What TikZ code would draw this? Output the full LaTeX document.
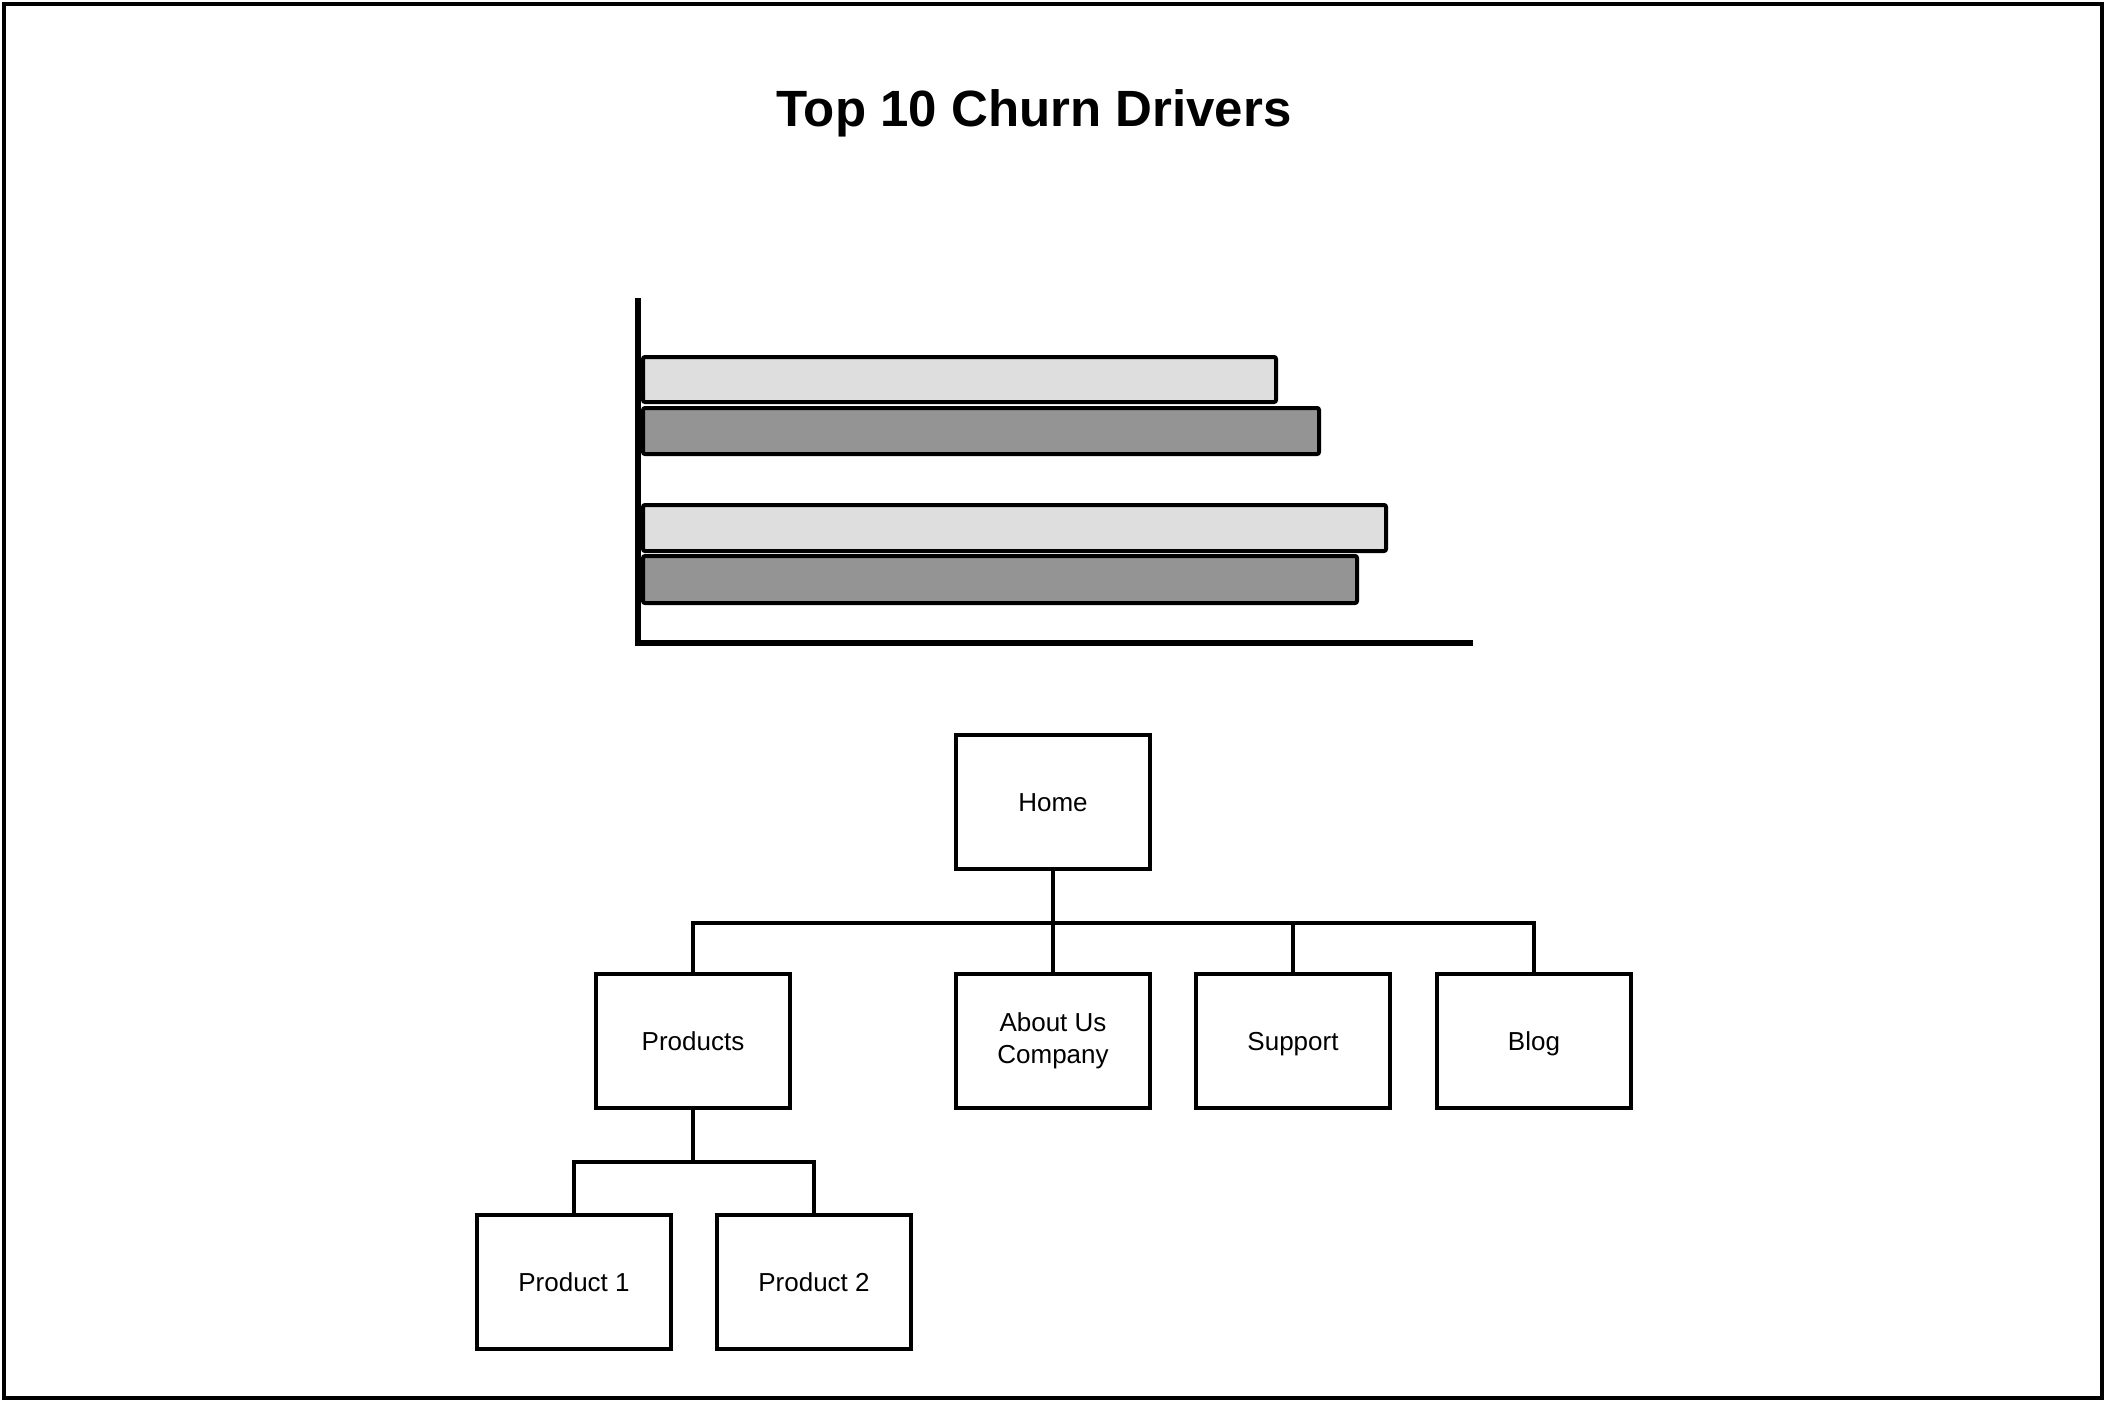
\documentclass[tikz,border=0pt]{standalone}
\usepackage{fontspec}
\setmainfont{Liberation Sans}
\begin{document}
\begin{tikzpicture}[x=0.5pt,y=-0.5pt,
  page/.style={draw=black,line width=2pt},
  titletext/.style={font=\fontsize{25.5}{30}\selectfont\bfseries},
  axis/.style={draw=black,line width=3pt},
  lightbar/.style={draw=black,fill=black!13,line width=2pt,rounded corners=1pt},
  darkbar/.style={draw=black,fill=black!42,line width=2pt,rounded corners=1pt},
  pagebox/.style={draw=black,fill=white,line width=2pt,minimum width=97pt,minimum height=67pt,inner sep=2pt,align=center,font=\fontsize{13}{16}\selectfont},
  oneline/.style={text height=9.4pt,text depth=0pt},
  link/.style={draw=black,line width=1.9pt}]
\useasboundingbox (0,0) rectangle (2106,1402);
\draw[page] (4,4) rectangle (2102,1398);
\node[titletext] (title) at (1034,113) {Top 10 Churn Drivers};
% chart
\coordinate (axtop) at (638,298);
\coordinate (origin) at (638,643);
\coordinate (axend) at (1473,643);
\draw[axis] (axtop) -- (origin) -- (axend);
\draw[lightbar] (643,357) rectangle (1276,402);
\draw[darkbar] (643,408) rectangle (1319,454);
\draw[lightbar] (643,505) rectangle (1386,551);
\draw[darkbar] (643,556) rectangle (1357,603);
% tree
\node[pagebox,oneline] (home) at (1053,802) {Home};
\node[pagebox,oneline] (products) at (693,1041) {Products};
\node[pagebox] (about) at (1053,1041) {About Us\\Company};
\node[pagebox,oneline] (support) at (1293,1041) {Support};
\node[pagebox,oneline] (blog) at (1534,1041) {Blog};
\node[pagebox,oneline] (p1) at (574,1282) {Product 1};
\node[pagebox,oneline] (p2) at (814,1282) {Product 2};
\foreach \c in {products,about,support,blog}
  \draw[link] (home.south) -- ++(0,52) -| (\c.north);
\foreach \c in {p1,p2}
  \draw[link] (products.south) -- ++(0,52) -| (\c.north);
\end{tikzpicture}
\end{document}
